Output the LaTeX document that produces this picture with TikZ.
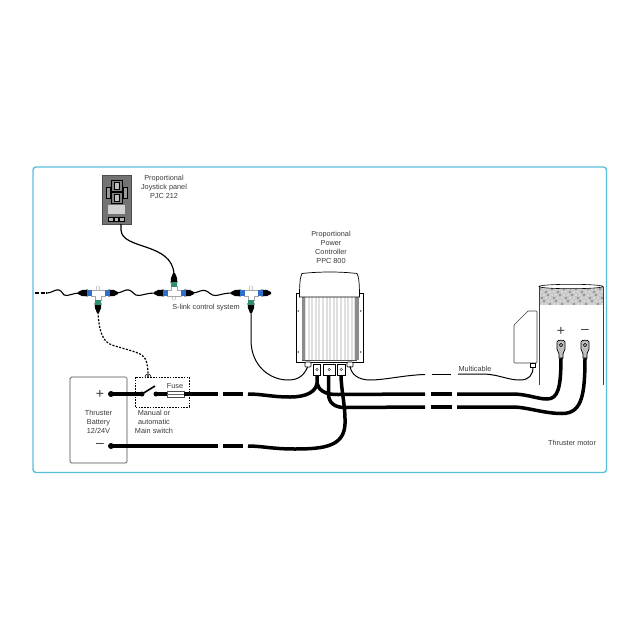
\documentclass[tikz,border=0pt]{standalone}
\usepackage{fontspec}
\setmainfont{Liberation Sans}
\definecolor{frameblue}{HTML}{58C0DA}
\definecolor{txt}{HTML}{3A3A3A}
\definecolor{linkblue}{HTML}{2F6FC8}
\definecolor{linkgreen}{HTML}{2F8F70}
\tikzset{
  lbl/.style={font=\fontsize{7.3}{9}\selectfont,text=txt,align=center,inner sep=0pt},
  sign/.style={font=\fontsize{14}{14}\selectfont,text=txt,inner sep=0pt},
  heavy/.style={line width=3.5pt,black},
  heavydot/.style={circle,fill=black,inner sep=0pt,minimum size=6pt},
  thincable/.style={line width=1pt,black},
  wave/.style={line width=1.1pt,black},
  lugbody/.style={draw=black,line width=.7pt,fill=white},
  tee/.pic={
    \fill[black] (-10,-3.4) -- (-16,-3) -- (-20,-1) -- (-20,1) -- (-16,3) -- (-10,3.4) -- cycle;
    \fill[black] (10,-3.4) -- (16,-3) -- (20,-1) -- (20,1) -- (16,3) -- (10,3.4) -- cycle;
    \fill[black] (-3.4,10) -- (-3,15) -- (-1,20) -- (1,20) -- (3,15) -- (3.4,10) -- cycle;
    \draw[gray!70,line width=.4pt,fill=white] (-2,-3) -- (-1,-7) -- (1,-7) -- (2,-3) -- cycle;
    \draw[gray!70,line width=.4pt,fill=white] (-7,-3) -- (7,-3) -- (7,3) -- (3,3) -- (3,7) -- (-3,7) -- (-3,3) -- (-7,3) -- cycle;
    \fill[linkblue] (-11.5,-2.6) rectangle (-6.5,2.6);
    \fill[linkblue] (6.5,-2.6) rectangle (11.5,2.6);
    \fill[linkgreen] (-2.6,6.5) rectangle (2.6,11.5);
  }
}
\begin{document}
\begin{tikzpicture}[x=1pt,y=-1pt,line cap=butt]
\useasboundingbox (0,0) rectangle (640,640);
\fill[white] (0,0) rectangle (640,640);
\draw[frameblue,line width=1.4pt,rounded corners=3pt] (33,167) rectangle (606.5,472.5);

% named end points
\coordinate (panelout) at (121,224);
\coordinate (t2top) at (174,274);
\coordinate (t1bot) at (98,312);
\coordinate (t3bot) at (251,312);
\coordinate (plugL) at (308,366);
\coordinate (plugR) at (350,366);
\coordinate (termA) at (317,374);
\coordinate (termB) at (328.5,374);
\coordinate (termC) at (341,374);
\coordinate (mplug) at (533,367);
\coordinate (lugP) at (561,357);
\coordinate (lugN) at (585,357);
\coordinate (boxTop) at (148,377);
\coordinate (split) at (317,383);

% joystick panel
\node[draw=black!70,fill=black!55,line width=.6pt,minimum width=29pt,minimum height=49pt,inner sep=0pt] (panel) at (116.5,199.5) {};
\foreach \a/\b/\c/\d in {106/187/110/198,123/187/127/198}
  \draw[black,fill=black!40,line width=.5pt] (\a,\b) rectangle (\c,\d);
\foreach \b/\d in {180/191.5,192.5/203.5}{
  \draw[black,fill=black!50,line width=.7pt] (111,\b) rectangle (122,\d);
  \draw[black,fill=black!25,line width=.5pt] (114,\b+2) rectangle (119,\d-2);
}
\fill[black!18] (108,205) rectangle (125,214);
\foreach \a in {108.5,114,119.5}
  \draw[black,fill=black!30,line width=.5pt] (\a,217) rectangle (\a+4.5,221);
\node[lbl] (panellabel) at (164,187) {Proportional\\Joystick panel\\PJC 212};

% wavy bus
\coordinate (w0) at (35,293);
\coordinate (w1) at (47,293);
\draw[line width=1.1pt,dash pattern=on 4pt off 1.5pt] (w0) -- (w1);
\draw[wave] (w1) .. controls (52,293) and (55,289) .. (59,290) .. controls (63,291) and (62,296) .. (67,295.5) .. controls (71,295) and (74,293) .. (80,293);
\draw[wave] (116,293) .. controls (122,293) and (125,289) .. (129,290) .. controls (133,291) and (134,296) .. (139,295.5) .. controls (143,295) and (148,293) .. (155,293);
\draw[wave] (192,293) .. controls (198,293) and (201,289.5) .. (205,290.5) .. controls (209,291.5) and (211,296) .. (216,295.5) .. controls (220,295) and (225,293) .. (231,293);

% tees
\pic (t1) at (98,293) {tee};
\pic[yscale=-1] (t2) at (174,293) {tee};
\pic (t3) at (251,293) {tee};
\node[lbl] (slink) at (206,308) {S-link control system};

% cables to tees
\draw[thincable,line width=1.2pt] (panelout) -- (121,230) .. controls (122,250) and (172,242) .. (t2top);
\draw[thincable] (t3bot) -- (251,340) .. controls (251,366) and (270,380) .. (288,380) .. controls (298,380) and (304,376) .. (plugL);
\draw[line width=1.2pt,dash pattern=on 2pt off 1.5pt] (t1bot) .. controls (99,332) and (103,342) .. (112,345) .. controls (124,349) and (135,351) .. (142,355) .. controls (147,359) and (148,366) .. (boxTop);

% battery
\node[draw=black!70,line width=.7pt,rounded corners=1.5pt,minimum width=57pt,minimum height=86pt,inner sep=0pt] (battery) at (98.5,420) {};
\node[sign] (bplus) at (100,394) {+};
\node[sign] (bminus) at (100,445.5) {–};
\node[lbl] (batlabel) at (98.5,422) {Thruster\\Battery\\12/24V};

% main switch box
\draw[black,line width=.7pt,dash pattern=on 1.6pt off 1.2pt] (135,377) rectangle (189,407);
\draw[black,line width=.6pt] (145,377) arc[start angle=180,end angle=0,radius=3pt];
\node[lbl] (mslabel) at (154,422) {Manual or\\automatic\\Main switch};
\node[lbl] (fuselabel) at (175,386.5) {Fuse};
\node[heavydot] (dotP) at (111,394) {};
\node[heavydot] (dotN) at (111,446) {};
\node[heavydot,minimum size=5pt] (swA) at (142,394) {};
\node[heavydot,minimum size=5pt] (swB) at (156,394) {};
\draw[black,line width=1.6pt] (swA.center) -- (155,386);
\node[draw=black!70,fill=white,line width=.5pt,minimum width=17pt,minimum height=6pt,inner sep=0pt] (fuse) at (175.5,394) {};
\draw[black!60,line width=.4pt] (fuse.west) -- (fuse.east);

% heavy cables
\draw[heavy] (dotP.center) -- (swA.center);
\draw[heavy] (swB.center) -- (fuse.west);
\draw[heavy] (fuse.east) -- (218,394);
\draw[heavy] (223,394) -- (243,394);
\draw[heavy] (248,394) .. controls (262,394) and (272,397) .. (290,397) .. controls (306,397) and (316,392) .. (split) -- (termA);
\draw[heavy] (dotN.center) -- (218,446);
\draw[heavy] (223,446) -- (243,446);
\draw[heavy] (248,446) .. controls (262,446) and (272,449) .. (295,449) .. controls (325,449) and (344,446) .. (345,424) .. controls (345.5,405) and (341,390) .. (termC);
\draw[heavy] (split) .. controls (318,389) and (324,395) .. (338,394.5) -- (425,394);
\draw[heavy] (termB) -- (328.5,394) .. controls (328.5,402) and (334,408) .. (346,407.5) -- (425,407);
\draw[heavy] (431,394) -- (452,394);
\draw[heavy] (431,407) -- (452,407);
\draw[heavy] (457,394) -- (515,394) .. controls (530,395) and (538,399) .. (547,399) .. controls (558,399) and (561,388) .. (lugP);
\draw[heavy] (457,407) -- (515,407) .. controls (530,408) and (545,413.5) .. (562,413.5) .. controls (582,413.5) and (585,395) .. (lugN);

% PPC
\node[lbl] (ppclabel) at (331,247.5) {Proportional\\Power\\Controller\\PPC 800};
\node[draw=black,fill=white,line width=.6pt,minimum width=67pt,minimum height=69pt,inner sep=0pt] (ppc) at (329.5,327.5) {};
\fill[black!12] (302,296) rectangle (357,360);
\foreach \i in {0,...,13}
  \fill[white] (306+\i*3.6,296) rectangle (307.6+\i*3.6,360);
\fill[black!45] (301.5,296) rectangle (304.5,360);
\fill[black!45] (355,296) rectangle (358.5,360);
\draw[black!70,line width=.4pt] (302,360) -- (357,360);
\foreach \p in {(298.3,311),(298.3,352),(360.7,311),(360.7,352)}
  \fill[black!70] \p circle (.9pt);
\draw[black,fill=white,line width=.7pt] (299.5,297) .. controls (299.5,285) and (300,277) .. (302,273.5)
  .. controls (320,271.5) and (340,271.5) .. (357,273.5) .. controls (359,277) and (359.5,285) .. (359.5,297) -- cycle;
\foreach \a/\b in {305/311,347/353}
  \draw[black,fill=white,line width=.6pt,rounded corners=.8pt] (\a,362) rectangle (\b,367);
\foreach \a/\b in {313.5/320.5,323.5/335,337.5/345}{
  \draw[black,fill=white,line width=.6pt] (\a,364) rectangle (\b,375);
  \draw[black!70,line width=.5pt] ({(\a+\b)/2},369.5) circle (1.3pt);
}

% multicable
\draw[thincable] (plugR) .. controls (351,374) and (358,380) .. (370,380) .. controls (385,380) and (405,375) .. (425,374.5);
\draw[thincable] (432,374) -- (451,374);
\draw[thincable] (458,374) -- (485,374) .. controls (500,375) and (508,380) .. (520,380) .. controls (529,380) and (533,375) .. (mplug);
\node[lbl] (multilabel) at (475,369) {Multicable};

% motor
\fill[black!22] (539,287) rectangle (603,305);
\foreach \x in {0,...,15} \foreach \y in {0,...,5}{
  \pgfmathtruncatemacro{\shade}{mod(\x*7+\y*11,3)==0 ? 60 : 8}
  \pgfmathsetmacro{\off}{mod(\y,2)*2}
  \fill[black!\shade] (540+\x*4+\off,289+\y*3) circle (.8pt);
}
\draw[black,fill=white,line width=.6pt] (571,286.5) ellipse (32pt and 2.2pt);
\draw[black!75,line width=.8pt] (539,287) -- (539,385);
\draw[black!75,line width=.8pt] (603,287) -- (603,385);
\draw[black!75,line width=.6pt,fill=white,rounded corners=.8pt] (514,325) -- (528,311) -- (537,311) -- (537,363) -- (514,363) -- cycle;
\draw[black,fill=white,line width=.6pt] (530.5,363) rectangle (535.5,367);
\node[sign] (mplus) at (561,331) {+};
\node[sign] (mminus) at (585,331) {–};
\foreach \c in {561,585}{
  \draw[lugbody,fill=black!25] (\c-4,342) .. controls (\c-4,339.5) and (\c+4,339.5) .. (\c+4,342) -- (\c+4,349) -- (\c+2,354) -- (\c+2,358) -- (\c-2,358) -- (\c-2,354) -- (\c-4,349) -- cycle;
  \draw[black,fill=white,line width=.6pt] (\c,345) circle (1.6pt);
}
\node[lbl] (motorlabel) at (572,443) {Thruster motor};
\end{tikzpicture}
\end{document}
